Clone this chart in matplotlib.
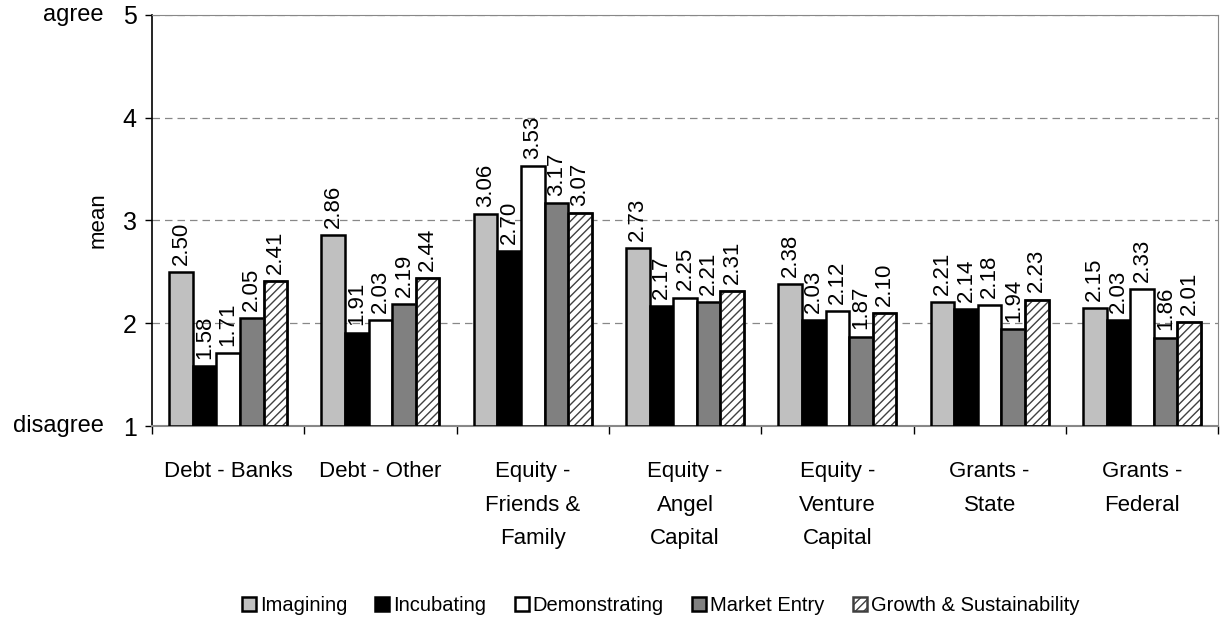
import numpy as np
import matplotlib.pyplot as plt

plt.rcParams['font.family'] = ['Liberation Sans', 'DejaVu Sans']
plt.rcParams['hatch.linewidth'] = 1.0

categories = ['Debt - Banks', 'Debt - Other', 'Equity -\nFriends &\nFamily',
              'Equity -\nAngel\nCapital', 'Equity -\nVenture\nCapital',
              'Grants -\nState', 'Grants -\nFederal']
series = ['Imagining', 'Incubating', 'Demonstrating', 'Market Entry',
          'Growth & Sustainability']
imagining = [2.50, 2.86, 3.06, 2.73, 2.38, 2.21, 2.15]
incubating = [1.58, 1.91, 2.70, 2.17, 2.03, 2.14, 2.03]
demonstrating = [1.71, 2.03, 3.53, 2.25, 2.12, 2.18, 2.33]
market_entry = [2.05, 2.19, 3.17, 2.21, 1.87, 1.94, 1.86]
growth = [2.41, 2.44, 3.07, 2.31, 2.10, 2.23, 2.01]
values = [imagining, incubating, demonstrating, market_entry, growth]

colors = ['#c0c0c0', '#000000', '#ffffff', '#808080', '#ffffff']
hatches = [None, None, None, None, '////']

fig = plt.figure(figsize=(12.23, 6.22), dpi=100)
ax = fig.add_axes([0.1243, 0.315, 0.8717, 0.661])

x = np.arange(len(categories))
w = 0.155
for i, (name, vals) in enumerate(zip(series, values)):
    pos = x + (i - 2) * w
    bars = ax.bar(pos, np.array(vals) - 1, w, bottom=1, color=colors[i],
                  edgecolor='black', linewidth=1.8, hatch=hatches[i],
                  label=name, zorder=3)
    if hatches[i]:
        for b in bars:
            b.set_edgecolor('#404040')
        # outline in black on top of the hatch
        ax.bar(pos, np.array(vals) - 1, w, bottom=1, fill=False,
               edgecolor='black', linewidth=1.8, zorder=4)
    for p, v in zip(pos, vals):
        ax.text(p, v + 0.07, f'{v:.2f}', rotation=90, ha='center',
                va='bottom', fontsize=16)

ax.set_xlim(-0.5, len(categories) - 0.5)
ax.set_ylim(1, 5)
ax.set_yticks([1, 2, 3, 4, 5])
ax.tick_params(axis='y', labelsize=18, length=5, width=1, direction='out', pad=6)
ax.yaxis.grid(True, linestyle=(0, (6, 4)), color='#888888', linewidth=0.9, zorder=0)
ax.set_ylabel('mean', fontsize=16, labelpad=10)

ax.set_xticks(x)
ax.set_xticklabels(categories, fontsize=16, va='top', linespacing=1.8)
ax.tick_params(axis='x', length=0, pad=25)
ax.set_xticks(np.arange(-0.5, len(categories)), minor=True)
ax.tick_params(axis='x', which='minor', length=6, width=1, direction='out')

for s in ['top', 'right']:
    ax.spines[s].set_color('#888888')
ax.spines['left'].set_linewidth(1.2)
ax.spines['bottom'].set_color('#888888')
ax.spines['bottom'].set_linewidth(1.5)

fig.text(0.085, 0.976, 'agree', fontsize=17, ha='right', va='center')
fig.text(0.085, 0.315, 'disagree', fontsize=17, ha='right', va='center')

leg = fig.legend(loc='center', bbox_to_anchor=(0.54, 0.027), ncol=5,
                 frameon=False, fontsize=14.5, handlelength=0.7,
                 handleheight=0.7, handletextpad=0.2, columnspacing=1.4)

fig.savefig('out.png', dpi=100)
